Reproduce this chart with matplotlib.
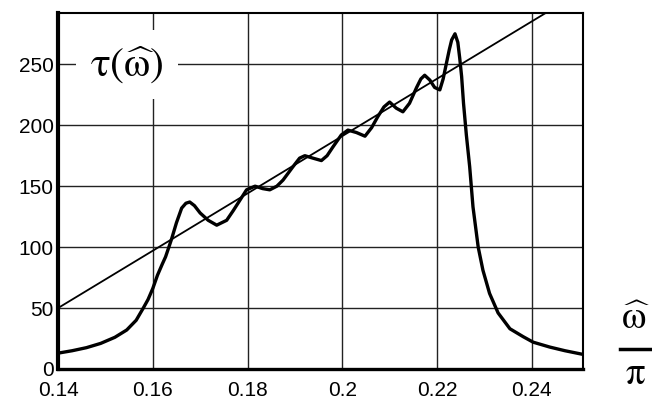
import matplotlib.pyplot as plt
from matplotlib.lines import Line2D

plt.rcParams['mathtext.fontset'] = 'stix'

# group delay curve
freq = [0.140, 0.143, 0.146, 0.149, 0.152, 0.1545, 0.1565, 0.158, 0.159, 0.160,
        0.161, 0.162, 0.1627, 0.1634, 0.164, 0.165, 0.1661, 0.167, 0.1678, 0.1688,
        0.170, 0.1717, 0.1735, 0.1756, 0.177, 0.1784, 0.1798, 0.1816, 0.1832, 0.1847,
        0.1862, 0.1875, 0.1896, 0.191, 0.1921, 0.1938, 0.1956, 0.1968, 0.198, 0.1998,
        0.2012, 0.2030, 0.2048, 0.2062, 0.2075, 0.2088, 0.2100, 0.2114, 0.2128, 0.2142,
        0.2157, 0.2166, 0.2174, 0.2185, 0.2195, 0.2206, 0.2213, 0.2220, 0.2226, 0.2231,
        0.2238, 0.2244, 0.2248, 0.2252, 0.2256, 0.2262, 0.2269, 0.2276, 0.2287, 0.2297,
        0.2311, 0.2329, 0.2354, 0.2382, 0.2403, 0.2438, 0.2470, 0.2508]
tau = [13, 15, 17.5, 21, 26, 32, 40, 50, 57, 66,
       77, 86, 92, 100, 107, 120, 132, 136, 137, 134,
       128, 122, 118, 122, 130, 138.5, 147, 150, 148, 147,
       150, 155, 166, 173, 175, 173, 171, 175, 182, 192,
       196, 194, 191, 198, 207, 215, 219, 214, 211, 218,
       231, 238, 241, 237, 231, 229, 238, 251, 262, 270,
       275, 268, 255, 240, 218, 192, 166, 133, 100, 81,
       62, 46, 33, 26.5, 22, 18, 15, 12]

# linear-phase reference line
line_x = [0.14, 0.251]
line_y = [50, 311]

xticks = [0.14, 0.16, 0.18, 0.2, 0.22, 0.24]
xticklabels = ['0.14', '0.16', '0.18', '0.2', '0.22', '0.24']
yticks = [0, 50, 100, 150, 200, 250]

fig = plt.figure(figsize=(6.52, 3.99), dpi=100)
ax = fig.add_axes([0.089, 0.0752, 0.805, 0.892])

ax.plot(line_x, line_y, color='black', lw=1.3, zorder=3)
ax.plot(freq, tau, color='black', lw=2.4, solid_joinstyle='round',
        solid_capstyle='round', zorder=4)

ax.set_xlim(0.14, 0.2508)
ax.set_ylim(0, 292)
ax.set_xticks(xticks)
ax.set_xticklabels(xticklabels)
ax.set_yticks(yticks)
ax.grid(True, color='#222222', lw=1.0)
ax.tick_params(axis='x', length=0, pad=9, labelsize=15)
ax.tick_params(axis='y', length=0, pad=3, labelsize=15)
for lab in ax.get_xticklabels() + ax.get_yticklabels():
    lab.set_family('Liberation Sans')
ax.spines['left'].set_linewidth(3.0)
ax.spines['bottom'].set_linewidth(2.4)
ax.spines['top'].set_linewidth(1.5)
ax.spines['right'].set_linewidth(1.5)

ax.text(0.1468, 250, r'$\mathrm{\tau}(\widehat{\mathrm{\omega}})$', fontsize=30,
        va='center', ha='left',
        bbox=dict(facecolor='white', edgecolor='none', pad=10), zorder=5)

# axis label: omega-hat over pi
fig.text(0.975, (399 - 318) / 399, r'$\widehat{\mathrm{\omega}}$', fontsize=28,
         ha='center', va='center')
fig.add_artist(Line2D([620 / 652, 1.0], [(399 - 349) / 399] * 2, color='black', lw=2.5))
fig.text(0.975, (399 - 373) / 399, r'$\mathrm{\pi}$', fontsize=28,
         ha='center', va='center')

fig.savefig('out.png', dpi=100)
